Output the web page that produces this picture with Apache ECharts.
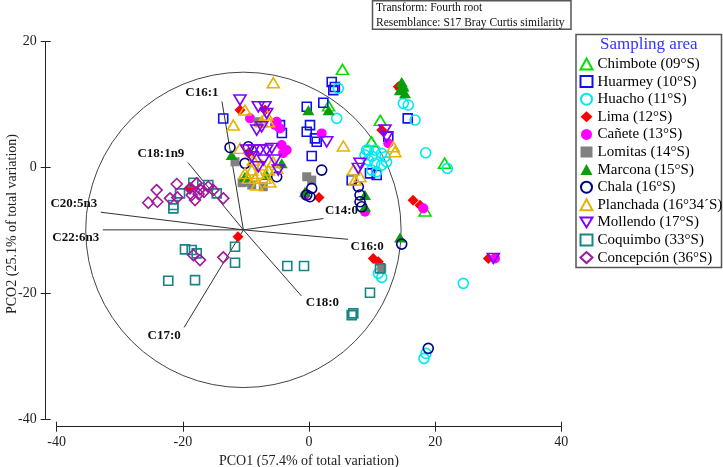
<!DOCTYPE html>
<html><head><meta charset="utf-8">
<script src="https://cdn.jsdelivr.net/npm/echarts@6/dist/echarts.min.js"></script>
<style>html,body{margin:0;padding:0;background:#fff}#c{width:723px;height:467px}</style>
</head><body><div id="c"></div>
<script>
// ---------------- data ----------------
const groupNames = ['Chimbote (09°S)','Huarmey (10°S)','Huacho (11°S)','Lima (12°S)','Cañete (13°S)','Lomitas (14°S)','Marcona (15°S)','Chala (16°S)','Planchada (16°34´S)','Mollendo (17°S)','Coquimbo (33°S)','Concepción (36°S)'];

const chimbote = [[5.3,15.6],[3.1,9.8],[11.3,7.5],[9.9,4.1],[21.5,0.7],[18.4,-6.9],[14.7,13.2]];
const huarmey = [[-13.6,7.8],[-4.6,6.75],[-4.3,5.5],[3.6,13.6],[3.85,12.3],[4.1,12.8],[-0.36,9.66],[2.27,10.3],[0.16,6.75],[-0.36,5.69],[0.95,4.64],[1.22,4.1],[0.43,1.83],[15.65,7.82],[12.57,4.89],[6.77,-1.99],[10.73,-1.19],[9.67,-0.92]];
const huacho = [[4.65,12.59],[4.39,7.82],[14.95,10.2],[15.74,9.93],[16.81,7.55],[9.4,2.78],[10.46,2.78],[11.53,2.26],[12.05,1.72],[9.4,1.19],[10.46,0.67],[11.53,0.4],[10.73,-0.67],[9.94,-0.4],[8.88,1.99],[12.3,0.9],[10.0,1.8],[9.15,2.78],[18.5,2.35],[21.93,-0.13],[10.99,-16.81],[11.53,-17.45],[18.55,-29.53],[18.23,-30.32],[24.46,-18.4]];
const lima = [[-10.94,9.14],[-6.98,9.14],[-9.6,2.3],[-18.87,-3.3],[-11.26,-11.0],[1.59,-4.74],[14.16,12.84],[11.53,5.96],[16.5,-5.2],[17.6,-6.0],[10.19,-14.43],[10.99,-14.97],[28.43,-14.43]];
const canete = [[-9.35,7.82],[-5.39,6.75],[-5.12,7.28],[-4.6,6.2],[-4.33,3.58],[-3.54,2.78],[-4.1,2.3],[2.01,5.43],[-0.63,-4.37],[8.88,-7.02],[12.57,3.85],[18.12,-6.48],[29.49,-14.43]];
const lomitas = [[-8.04,7.28],[-11.73,0.92],[-10.15,-2.26],[-9.08,-2.78],[-7.25,-3.05],[-10.6,-2.4],[0.43,-1.99],[-0.36,-1.46],[11.53,-16.02]];
const marcona = [[14.7,13.6],[14.95,12.84],[15.22,11.79],[14.4,12.3],[-0.1,9.1],[3.1,9.1],[-12.26,1.99],[-10.15,-1.46],[-6.71,-1.19],[-4.33,0.67],[-0.63,-3.85],[8.88,-4.37],[8.88,-6.23],[14.43,-11.1]];
const chala = [[-12.52,3.2],[-10.15,0.67],[-5.12,-1.46],[-9.62,3.31],[2.01,-0.4],[0.43,-3.31],[-0.36,-4.37],[0.16,-4.64],[7.82,-3.05],[8.09,-4.37],[8.09,-5.43],[8.36,-6.23],[14.7,-12.16],[18.91,-28.73]];
const planchada = [[-5.66,13.48],[-10.15,9.14],[-6.71,8.34],[-12.0,6.75],[-7.5,7.28],[-6.45,7.28],[-10.94,3.05],[-8.83,1.19],[-9.08,-0.4],[-10.15,-0.92],[-8.04,-0.92],[-6.45,-0.4],[-5.12,-0.13],[-6.98,-1.72],[-8.56,-1.72],[-8.29,-2.78],[-9.62,-1.72],[-7.5,0.4],[-6.2,-2.3],[-5.7,0.9],[5.44,3.42],[13.37,3.31],[13.63,2.51],[7.02,-0.4],[8.09,-1.46],[7.29,-1.99]];
const mollendo = [[-10.94,10.73],[-8.04,9.66],[-6.98,9.66],[-8.29,5.96],[-7.5,6.48],[-6.71,8.61],[-9.88,2.78],[-8.83,2.78],[-7.77,2.78],[-6.71,2.78],[-5.91,3.05],[-9.08,1.72],[-7.25,1.19],[-5.39,1.19],[-8.04,0.13],[-4.87,-0.4],[2.81,4.1],[12.05,5.96],[12.32,4.89],[8.09,0.67],[7.82,-0.13],[29.22,-14.43]];
const coquimbo = [[-21.51,-5.96],[-21.51,-6.48],[-20.45,-4.1],[-18.34,-2.42],[-15.97,-2.78],[-14.63,-4.1],[-19.66,-13.0],[-18.6,-13.11],[-17.8,-13.63],[-22.31,-17.99],[-18.07,-17.88],[-11.73,-12.59],[-11.73,-15.13],[-3.44,-15.65],[-0.79,-15.65],[9.67,-19.9],[11.26,-16.02],[6.77,-23.44],[7.02,-23.17]];
const concepcion = [[-24.15,-3.58],[-25.48,-5.59],[-24.05,-5.43],[-22.04,-4.89],[-20.97,-2.62],[-20.88,-4.74],[-18.87,-3.31],[-17.8,-2.51],[-17.28,-3.46],[-18.07,-5.16],[-16.65,-3.85],[-15.97,-3.05],[-15.17,-3.58],[-13.59,-4.89],[-18.6,-4.37],[-17.5,-4.2],[-18.34,-13.9],[-17.28,-14.7],[-13.59,-14.27]];

const vectorNames = ['C16:1','C18:1n9','C20:5n3','C22:6n3','C14:0','C16:0','C18:0','C17:0'];
const vectorOrigin = [-10.4,-9.9];
const vectorEnds = [[-13.8,10.5],[-19.2,0.8],[-33.0,-7.1],[-32.7,-9.9],[2.3,-8.1],[6.2,-11.4],[-1.2,-20.4],[-19.8,-25.4]];
const circleRadius = 25;

const xTicks = [-40,-20,0,20,40];
const yTicks = [-40,-20,0,20];

// ---------------- styles ----------------
const FONT = '"Liberation Serif","Times New Roman",serif';
const groupData = [chimbote,huarmey,huacho,lima,canete,lomitas,marcona,chala,planchada,mollendo,coquimbo,concepcion];
const groupStyle = [
  {symbol:'triangle', size:[12,10], color:'#00e000', filled:false},
  {symbol:'rect', size:[9,9], color:'#1010ee', filled:false},
  {symbol:'circle', size:[10,10], color:'#00e8f0', filled:false},
  {symbol:'diamond', size:[11,11], color:'#ff0000', filled:true},
  {symbol:'circle', size:[10,10], color:'#ff00ff', filled:true},
  {symbol:'rect', size:[9,9], color:'#808080', filled:true},
  {symbol:'triangle', size:[12,10], color:'#0a9e0a', filled:true},
  {symbol:'circle', size:[10,10], color:'#000080', filled:false},
  {symbol:'triangle', size:[12,10], color:'#e6b400', filled:false},
  {symbol:'path://M0,0L12,0L6,10Z', size:[12,10], color:'#8000ff', filled:false},
  {symbol:'rect', size:[9,9], color:'#178585', filled:false},
  {symbol:'diamond', size:[11,11], color:'#a0189f', filled:false}
];
const labelOffsets = {
  'C16:1':[-20,-9],'C18:1n9':[-27,-9],'C20:5n3':[-27,-9],'C22:6n3':[-27,8],
  'C14:0':[18,-8],'C16:0':[19,7],'C18:0':[21,7],'C17:0':[-20,8]
};

const scatterSeries = groupNames.map((name,i)=>{
  const s = groupStyle[i];
  return {
    type:'scatter', name:name, data:groupData[i], symbol:s.symbol, symbolSize:s.size,
    itemStyle: s.filled ? {color:s.color, opacity:1} : {color:'rgba(255,255,255,0)', borderColor:s.color, borderWidth:1.6, opacity:1},
    emphasis:{disabled:true}, z:3
  };
});

const decoSeries = [
  {
    type:'custom', name:'circle', silent:true, z:1,
    data:[[vectorOrigin[0],vectorOrigin[1],circleRadius]],
    encode:{x:0,y:1},
    renderItem:(p,api)=>{
      const c = api.coord([api.value(0),api.value(1)]);
      const r = api.size([api.value(2),0])[0];
      return {type:'circle', shape:{cx:c[0],cy:c[1],r:r}, style:{fill:'none',stroke:'#444',lineWidth:1}};
    }
  },
  {
    type:'custom', name:'vectors', silent:true, z:2,
    data: vectorEnds.map((e,i)=>[vectorOrigin[0],vectorOrigin[1],e[0],e[1],i]),
    encode:{x:[0,2],y:[1,3]},
    renderItem:(p,api)=>{
      const a = api.coord([api.value(0),api.value(1)]);
      const b = api.coord([api.value(2),api.value(3)]);
      const nm = vectorNames[api.value(4)];
      const off = labelOffsets[nm];
      return {type:'group', children:[
        {type:'line', shape:{x1:a[0],y1:a[1],x2:b[0],y2:b[1]}, style:{stroke:'#333',lineWidth:1}},
        {type:'text', x:b[0]+off[0], y:b[1]+off[1], z2:10,
         style:{text:nm, font:'bold 13px '+FONT, fill:'#111', align:'center', verticalAlign:'middle'}}
      ]};
    }
  }
];

const axisCommon = {
  type:'value', splitLine:{show:false},
  axisLine:{show:true, onZero:false, lineStyle:{color:'#222',width:1}},
  axisTick:{show:true, length:5, lineStyle:{color:'#222',width:1}},
};

const chart = echarts.init(document.getElementById('c'), null, {renderer:'canvas'});
chart.setOption({
  animation:false,
  backgroundColor:'#fff',
  grid:{left:56.7, right:161.7, top:41.7, bottom:47.7, containLabel:false, outerBoundsMode:'none'},
  xAxis:[
    Object.assign({}, axisCommon, {
      position:'bottom', min:xTicks[0], max:xTicks[xTicks.length-1], interval:xTicks[1]-xTicks[0], offset:7.4,
      axisLabel:{fontFamily:FONT, fontSize:14, color:'#222', margin:9},
      name:'PCO1 (57.4% of total variation)', nameLocation:'middle', nameGap:25,
      nameTextStyle:{fontFamily:FONT, fontSize:14, color:'#222'}
    }),
    Object.assign({}, axisCommon, {
      position:'bottom', min:xTicks[0], max:xTicks[xTicks.length-1], interval:xTicks[1]-xTicks[0], offset:7.4,
      axisLine:{show:false, onZero:false}, axisTick:{show:true, inside:true, length:5, lineStyle:{color:'#222'}},
      axisLabel:{show:false}
    })
  ],
  yAxis:[
    Object.assign({}, axisCommon, {
      position:'left', min:yTicks[0], max:yTicks[yTicks.length-1], interval:yTicks[1]-yTicks[0], offset:11,
      axisLabel:{fontFamily:FONT, fontSize:14, color:'#222', margin:9}
    }),
    Object.assign({}, axisCommon, {
      position:'left', min:yTicks[0], max:yTicks[yTicks.length-1], interval:yTicks[1]-yTicks[0], offset:11,
      axisLine:{show:false, onZero:false}, axisTick:{show:true, inside:true, length:5, lineStyle:{color:'#222'}},
      axisLabel:{show:false}
    })
  ],
  legend:{
    orient:'vertical', left:579.5, top:55.2, itemWidth:12, itemHeight:11, itemGap:0, padding:0,
    selectedMode:false, data:groupNames,
    textStyle:{fontFamily:FONT, fontSize:15, color:'#000', lineHeight:17.6}
  },
  graphic:[
    {type:'text', x:12, y:224, rotation:Math.PI/2, style:{text:'PCO2 (25.1% of total variation)', font:'14px '+FONT, fill:'#222', align:'center', verticalAlign:'middle'}},
    {type:'rect', shape:{x:372.5,y:0.75,width:198.5,height:28.5}, style:{fill:'#fff',stroke:'#555',lineWidth:1.5}, z:0},
    {type:'text', x:376, y:8, style:{text:'Transform: Fourth root', font:'11.5px '+FONT, fill:'#111', verticalAlign:'middle'}},
    {type:'text', x:376, y:22.5, style:{text:'Resemblance: S17 Bray Curtis similarity', font:'11.5px '+FONT, fill:'#111', verticalAlign:'middle'}},
    {type:'rect', shape:{x:576,y:34.5,width:145.5,height:233}, style:{fill:'rgba(0,0,0,0)',stroke:'#555',lineWidth:1.5}, z:0},
    {type:'text', x:648.8, y:44.3, style:{text:'Sampling area', font:'17px '+FONT, fill:'#3333ff', align:'center', verticalAlign:'middle'}}
  ],
  series: decoSeries.concat(scatterSeries)
});
</script>
</body></html>
